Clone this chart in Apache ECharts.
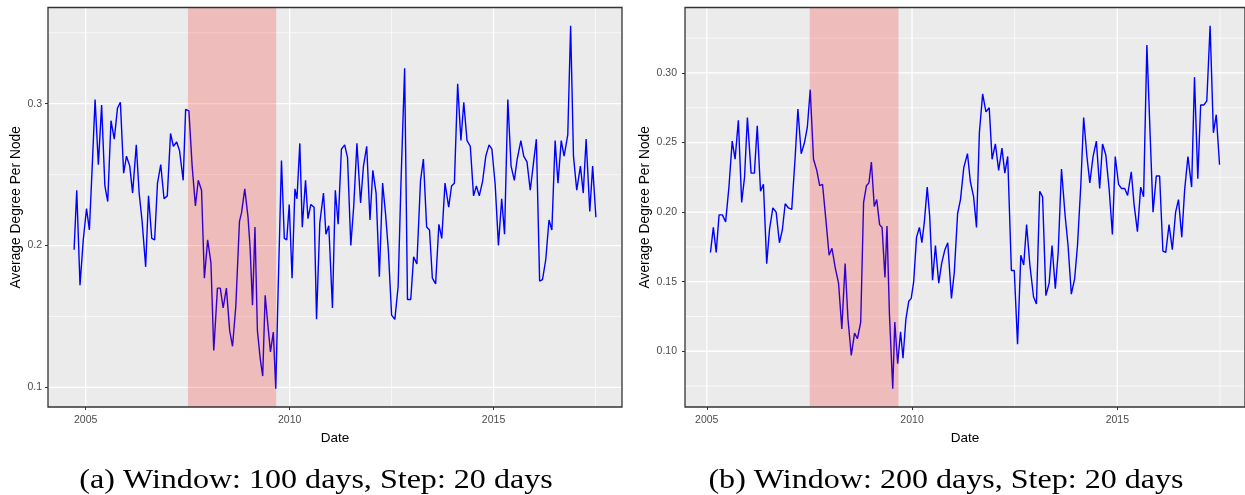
<!DOCTYPE html>
<html>
<head>
<meta charset="utf-8">
<script src="https://cdn.jsdelivr.net/npm/echarts@6/dist/echarts.min.js"></script>
<style>
  html, body { margin: 0; padding: 0; background: #ffffff; overflow: hidden; }
  #chart { width: 1245px; height: 495px; }
</style>
</head>
<body>
<div id="chart"></div>
<script>
// Average degree per node, rolling window of 100 days (step 20 days)
const dates100 = [
  2004.715, 2004.78, 2004.86, 2004.94, 2005.02, 2005.09, 2005.16, 2005.23, 2005.31, 2005.39,
  2005.47, 2005.54, 2005.62, 2005.70, 2005.78, 2005.85, 2005.93, 2006.00, 2006.08, 2006.15,
  2006.24, 2006.31, 2006.38, 2006.47, 2006.54, 2006.62, 2006.69, 2006.76, 2006.84, 2006.92,
  2007.00, 2007.08, 2007.15, 2007.23, 2007.30, 2007.39, 2007.45, 2007.53, 2007.61, 2007.69,
  2007.76, 2007.84, 2007.91, 2007.99, 2008.07, 2008.14, 2008.23, 2008.30, 2008.37, 2008.45,
  2008.53, 2008.60, 2008.68, 2008.77, 2008.82, 2008.90, 2008.98, 2009.03, 2009.09, 2009.15,
  2009.21, 2009.28, 2009.34, 2009.40, 2009.48, 2009.53, 2009.60, 2009.66, 2009.72, 2009.80,
  2009.87, 2009.93, 2009.99, 2010.06, 2010.13, 2010.18, 2010.25, 2010.31, 2010.39, 2010.45,
  2010.52, 2010.60, 2010.66, 2010.74, 2010.83, 2010.89, 2010.96, 2011.05, 2011.12, 2011.19,
  2011.27, 2011.35, 2011.42, 2011.50, 2011.57, 2011.65, 2011.74, 2011.81, 2011.89, 2011.97,
  2012.04, 2012.12, 2012.20, 2012.28, 2012.35, 2012.42, 2012.50, 2012.58, 2012.66, 2012.73,
  2012.82, 2012.89, 2012.97, 2013.04, 2013.12, 2013.21, 2013.28, 2013.36, 2013.43, 2013.50,
  2013.58, 2013.66, 2013.73, 2013.81, 2013.90, 2013.97, 2014.04, 2014.12, 2014.20, 2014.27,
  2014.35, 2014.43, 2014.51, 2014.58, 2014.65, 2014.73, 2014.81, 2014.89, 2014.96, 2015.04,
  2015.12, 2015.20, 2015.27, 2015.35, 2015.43, 2015.51, 2015.58, 2015.67, 2015.74, 2015.82,
  2015.90, 2015.97, 2016.05, 2016.13, 2016.20, 2016.28, 2016.36, 2016.43, 2016.51, 2016.58,
  2016.66, 2016.73, 2016.82, 2016.89, 2016.96, 2017.04, 2017.13, 2017.20, 2017.27, 2017.36,
  2017.43, 2017.51
];
const degree100 = [
  0.197, 0.239, 0.172, 0.204, 0.226, 0.211, 0.256, 0.303, 0.257, 0.299,
  0.242, 0.231, 0.288, 0.275, 0.297, 0.301, 0.251, 0.263, 0.256, 0.237,
  0.271, 0.237, 0.218, 0.185, 0.235, 0.205, 0.204, 0.244, 0.257, 0.233,
  0.235, 0.279, 0.270, 0.273, 0.267, 0.246, 0.296, 0.295, 0.256, 0.228,
  0.246, 0.239, 0.177, 0.204, 0.188, 0.126, 0.170, 0.170, 0.156, 0.170,
  0.140, 0.129, 0.157, 0.217, 0.223, 0.240, 0.220, 0.199, 0.158, 0.213,
  0.140, 0.120, 0.108, 0.165, 0.140, 0.125, 0.139, 0.099, 0.171, 0.260,
  0.205, 0.204, 0.229, 0.177, 0.240, 0.233, 0.272, 0.213, 0.246, 0.219,
  0.229, 0.227, 0.148, 0.216, 0.237, 0.208, 0.214, 0.156, 0.239, 0.215,
  0.268, 0.271, 0.262, 0.200, 0.227, 0.272, 0.230, 0.256, 0.270, 0.218,
  0.253, 0.237, 0.178, 0.244, 0.223, 0.197, 0.151, 0.148, 0.171, 0.244,
  0.325, 0.162, 0.162, 0.192, 0.187, 0.246, 0.261, 0.213, 0.211, 0.177,
  0.173, 0.215, 0.205, 0.244, 0.227, 0.242, 0.244, 0.314, 0.274, 0.301,
  0.274, 0.270, 0.235, 0.242, 0.235, 0.245, 0.263, 0.271, 0.268, 0.243,
  0.200, 0.233, 0.208, 0.303, 0.256, 0.246, 0.261, 0.274, 0.263, 0.259,
  0.239, 0.256, 0.275, 0.175, 0.176, 0.190, 0.218, 0.211, 0.274, 0.244,
  0.274, 0.263, 0.278, 0.355, 0.263, 0.239, 0.256, 0.237, 0.275, 0.224,
  0.256, 0.220
];

// Average degree per node, rolling window of 200 days (step 20 days)
const dates200 = [
  2005.09, 2005.16, 2005.23, 2005.30, 2005.38, 2005.46, 2005.54, 2005.62, 2005.69, 2005.77,
  2005.85, 2005.92, 2005.99, 2006.08, 2006.16, 2006.23, 2006.31, 2006.38, 2006.46, 2006.53,
  2006.61, 2006.69, 2006.77, 2006.84, 2006.91, 2006.99, 2007.07, 2007.15, 2007.22, 2007.30,
  2007.38, 2007.45, 2007.52, 2007.60, 2007.68, 2007.75, 2007.82, 2007.90, 2007.98, 2008.05,
  2008.13, 2008.21, 2008.29, 2008.37, 2008.44, 2008.52, 2008.60, 2008.67, 2008.75, 2008.82,
  2008.89, 2008.95, 2009.01, 2009.08, 2009.14, 2009.21, 2009.27, 2009.34, 2009.39, 2009.45,
  2009.53, 2009.58, 2009.65, 2009.72, 2009.78, 2009.85, 2009.92, 2009.98, 2010.04, 2010.11,
  2010.18, 2010.24, 2010.30, 2010.37, 2010.43, 2010.50, 2010.57, 2010.65, 2010.72, 2010.80,
  2010.87, 2010.96, 2011.03, 2011.11, 2011.18, 2011.26, 2011.35, 2011.42, 2011.50, 2011.57,
  2011.64, 2011.72, 2011.80, 2011.88, 2011.95, 2012.03, 2012.11, 2012.19, 2012.26, 2012.33,
  2012.42, 2012.49, 2012.57, 2012.65, 2012.72, 2012.79, 2012.87, 2012.96, 2013.03, 2013.11,
  2013.18, 2013.26, 2013.34, 2013.41, 2013.49, 2013.56, 2013.64, 2013.73, 2013.80, 2013.88,
  2013.96, 2014.03, 2014.11, 2014.18, 2014.26, 2014.33, 2014.41, 2014.49, 2014.57, 2014.64,
  2014.72, 2014.80, 2014.88, 2014.95, 2015.03, 2015.10, 2015.18, 2015.25, 2015.34, 2015.41,
  2015.49, 2015.57, 2015.64, 2015.72, 2015.80, 2015.87, 2015.95, 2016.03, 2016.11, 2016.18,
  2016.26, 2016.34, 2016.42, 2016.49, 2016.57, 2016.64, 2016.72, 2016.81, 2016.88, 2016.96,
  2017.03, 2017.11, 2017.18, 2017.26, 2017.34, 2017.41, 2017.49
];
const degree200 = [
  0.171, 0.189, 0.171, 0.198, 0.198, 0.193, 0.218, 0.251, 0.238, 0.266,
  0.207, 0.225, 0.268, 0.228, 0.228, 0.262, 0.215, 0.220, 0.163, 0.188,
  0.203, 0.200, 0.178, 0.187, 0.206, 0.203, 0.202, 0.238, 0.274, 0.242,
  0.250, 0.261, 0.288, 0.238, 0.230, 0.219, 0.220, 0.195, 0.169, 0.174,
  0.160, 0.149, 0.116, 0.163, 0.123, 0.097, 0.113, 0.109, 0.121, 0.207,
  0.219, 0.221, 0.236, 0.204, 0.209, 0.191, 0.189, 0.153, 0.190, 0.126,
  0.073, 0.121, 0.091, 0.114, 0.095, 0.123, 0.136, 0.138, 0.150, 0.182,
  0.189, 0.178, 0.193, 0.218, 0.197, 0.151, 0.176, 0.149, 0.163, 0.173,
  0.178, 0.138, 0.157, 0.199, 0.209, 0.232, 0.242, 0.222, 0.211, 0.189,
  0.257, 0.285, 0.272, 0.275, 0.238, 0.249, 0.230, 0.246, 0.228, 0.240,
  0.158, 0.158, 0.105, 0.169, 0.162, 0.191, 0.162, 0.139, 0.134, 0.215,
  0.211, 0.140, 0.149, 0.176, 0.145, 0.171, 0.231, 0.197, 0.176, 0.141,
  0.152, 0.176, 0.219, 0.268, 0.240, 0.221, 0.240, 0.251, 0.217, 0.249,
  0.241, 0.217, 0.184, 0.240, 0.220, 0.217, 0.217, 0.212, 0.229, 0.205,
  0.186, 0.218, 0.211, 0.320, 0.255, 0.200, 0.226, 0.226, 0.172, 0.171,
  0.191, 0.173, 0.200, 0.209, 0.182, 0.216, 0.240, 0.218, 0.297, 0.224,
  0.277, 0.277, 0.280, 0.334, 0.257, 0.270, 0.234
];

// Shaded crisis period (decimal years)
const crisisSpan = [2007.5, 2009.67];

// Tick positions
const yearTicks = [2005, 2010, 2015];
const yearMinor = [2007.5, 2012.5, 2017.5];
const ticks100 = [0.1, 0.2, 0.3];
const minor100 = [0.15, 0.25, 0.35];
const ticks200 = [0.10, 0.15, 0.20, 0.25, 0.30];
const minor200 = [0.075, 0.125, 0.175, 0.225, 0.275, 0.325];

const captions = [
  '(a) Window: 100 days, Step: 20 days',
  '(b) Window: 200 days, Step: 20 days'
];

// ggplot-style 5% expansion of the data range
function expand(arr) {
  const lo = Math.min(...arr), hi = Math.max(...arr), pad = (hi - lo) * 0.05;
  return [lo - pad, hi + pad];
}

const panels = [
  { dates: dates100, values: degree100, yTicks: ticks100, yMinor: minor100, digits: 1,
    labelMargin: 6, nameGap: 23 },
  { dates: dates200, values: degree200, yTicks: ticks200, yMinor: minor200, digits: 2,
    labelMargin: 8, nameGap: 27 }
];

const gridBoxes = [
  { left: 48, top: 7.5, width: 574, height: 399.5 },
  { left: 685, top: 7.5, width: 567, height: 399.5 }
];

const SANS = '"Liberation Sans", Arial, sans-serif';

const xAxes = [], yAxes = [], series = [];

panels.forEach((p, i) => {
  const xr = expand(p.dates), yr = expand(p.values);
  xAxes.push({
    type: 'value', gridIndex: i, min: xr[0], max: xr[1],
    splitLine: { show: false }, axisLine: { show: false },
    axisTick: { show: true, customValues: yearTicks, length: 3, lineStyle: { color: '#333333', width: 1 } },
    axisLabel: {
      customValues: yearTicks, color: '#4D4D4D', fontSize: 10.5, fontFamily: SANS, margin: 8,
      formatter: v => String(Math.round(v))
    },
    name: 'Date', nameLocation: 'middle', nameGap: 19,
    nameTextStyle: { color: '#000000', fontSize: 13.5, fontFamily: SANS }
  });
  yAxes.push({
    type: 'value', gridIndex: i, min: yr[0], max: yr[1],
    splitLine: { show: false }, axisLine: { show: false },
    axisTick: { show: true, customValues: p.yTicks, length: 3, lineStyle: { color: '#333333', width: 1 } },
    axisLabel: {
      customValues: p.yTicks, color: '#4D4D4D', fontSize: 10.5, fontFamily: SANS, margin: p.labelMargin,
      formatter: v => v.toFixed(p.digits)
    },
    name: 'Average Degree Per Node', nameLocation: 'middle', nameRotate: 90,
    nameGap: p.nameGap,
    nameTextStyle: { color: '#000000', fontSize: 13.8, fontFamily: SANS }
  });

  // panel grid lines (major and minor)
  const gl = [];
  yearMinor.forEach(v => gl.push([0, v, 0]));
  yearTicks.forEach(v => gl.push([0, v, 1]));
  p.yMinor.forEach(v => gl.push([1, v, 0]));
  p.yTicks.forEach(v => gl.push([1, v, 1]));
  series.push({
    type: 'custom', xAxisIndex: i, yAxisIndex: i, z: 1, silent: true, clip: false,
    data: gl,
    renderItem: (params, api) => {
      const cs = params.coordSys;
      const horizontal = api.value(0) === 1;
      const v = api.value(1);
      const w = api.value(2) ? 1.3 : 0.65;
      if (!horizontal) {
        const x = api.coord([v, yr[0]])[0];
        return { type: 'line', shape: { x1: x, y1: cs.y, x2: x, y2: cs.y + cs.height },
                 style: { stroke: '#FFFFFF', lineWidth: w } };
      }
      const y = api.coord([xr[0], v])[1];
      return { type: 'line', shape: { x1: cs.x, y1: y, x2: cs.x + cs.width, y2: y },
               style: { stroke: '#FFFFFF', lineWidth: w } };
    }
  });

  // the series line
  series.push({
    type: 'line', xAxisIndex: i, yAxisIndex: i, z: 2,
    data: p.dates.map((d, k) => [d, p.values[k]]),
    showSymbol: false, symbol: 'none', smooth: false,
    lineStyle: { color: '#0000FF', width: 1.4 },
    silent: true
  });

  // translucent band over the crisis period
  series.push({
    type: 'custom', xAxisIndex: i, yAxisIndex: i, z: 3, silent: true, clip: false,
    data: [crisisSpan],
    renderItem: (params, api) => {
      const cs = params.coordSys;
      const x0 = api.coord([api.value(0), yr[0]])[0];
      const x1 = api.coord([api.value(1), yr[0]])[0];
      return { type: 'rect', shape: { x: x0, y: cs.y, width: x1 - x0, height: cs.height },
               style: { fill: 'rgba(255,0,0,0.2)' } };
    }
  });

  // panel border
  series.push({
    type: 'custom', xAxisIndex: i, yAxisIndex: i, z: 4, silent: true, clip: false,
    data: [[xr[0], yr[0]]],
    renderItem: (params) => {
      const cs = params.coordSys;
      return { type: 'rect', shape: { x: cs.x, y: cs.y, width: cs.width, height: cs.height },
               style: { fill: 'none', stroke: '#333333', lineWidth: 1.3 } };
    }
  });
});

const chart = echarts.init(document.getElementById('chart'), null, { renderer: 'canvas' });
chart.setOption({
  animation: false,
  backgroundColor: '#FFFFFF',
  grid: gridBoxes.map(g => Object.assign({ show: true, backgroundColor: '#EBEBEB', borderWidth: 0 }, g)),
  xAxis: xAxes,
  yAxis: yAxes,
  series: series,
  graphic: captions.map((t, i) => ({
    type: 'text', x: i === 0 ? 316 : 946, y: 481, scaleX: 1.145,
    style: {
      text: t, textAlign: 'center', textVerticalAlign: 'middle',
      font: '28px "Liberation Serif", "Times New Roman", serif', fill: '#000000'
    }
  }))
});
</script>
</body>
</html>
